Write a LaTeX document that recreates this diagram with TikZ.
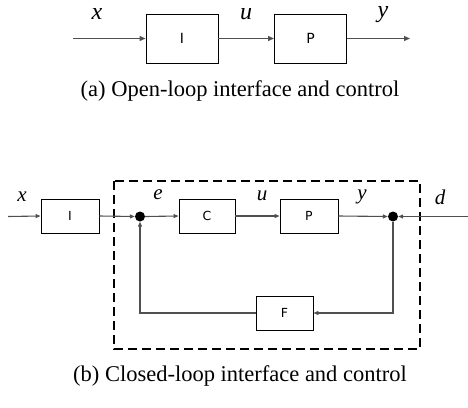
\documentclass[tikz,border=0pt]{standalone}
\usepackage{fontspec}
\setmainfont{Liberation Serif}
\newfontfamily\boxfont{DejaVu Sans}
\usetikzlibrary{arrows.meta,calc}
\definecolor{wire}{HTML}{505050}
\begin{document}
\begin{tikzpicture}[x=1pt,y=-1pt,
  blk/.style={draw=black,line width=0.9pt,fill=white,inner sep=0pt,font=\boxfont\fontsize{12.5}{14}\selectfont},
  bigblk/.style={blk,minimum width=72pt,minimum height=49pt,font=\boxfont\fontsize{14}{16}\selectfont},
  smallblk/.style={blk,minimum width=57pt,minimum height=34pt},
  wireline/.style={draw=wire,line width=1.1pt},
  arr/.style={wireline,-{Triangle[length=6pt,width=5pt]}},
  sarr/.style={wireline,-{Triangle[length=5pt,width=4pt]}},
  sig/.style={font=\fontsize{24}{26}\selectfont\itshape,inner sep=0pt},
  sigb/.style={font=\fontsize{21}{23}\selectfont\itshape,inner sep=0pt},
  dotnode/.style={circle,fill=black,minimum size=10pt,inner sep=0pt},
  capt/.style={font=\fontsize{22.5}{25}\selectfont,inner sep=0pt},
  frame/.style={draw=black,line width=1.8pt,dash pattern=on 9pt off 5pt}]
\useasboundingbox (0,0) rectangle (468,407);
% ---- (a) open loop ----
\coordinate (ain) at (73,38.5);
\coordinate (aout) at (410,38.5);
\node[bigblk] (aI) at (182,38.5) {I};
\node[bigblk] (aP) at (310.5,38.5) {P};
\draw[arr] (ain) -- (aI.west);
\draw[arr] (aI.east) -- (aP.west);
\draw[arr] (aP.east) -- (aout);
\node[sig] (ax) at (97,14) {x};
\node[sig] (au) at (246,14) {u};
\node[sig] (ay) at (383,15) {y};
\node[capt] (capa) at (240,91) {(a) Open-loop interface and control};
% ---- (b) closed loop ----
\draw[frame] (114,181) rectangle (420,349);
\coordinate (bin) at (8,216.5);
\coordinate (bd) at (468,216.5);
\node[smallblk,minimum width=58pt] (bI) at (70,216) {I};
\node[dotnode] (s1) at (140,216.5) {};
\node[smallblk,minimum width=56pt] (bC) at (207,216) {C};
\node[smallblk,minimum width=58pt] (bP) at (309,216) {P};
\node[dotnode] (s2) at (393,216.5) {};
\node[smallblk] (bF) at (284.5,313) {F};
\coordinate (c1) at (393,313);
\coordinate (c2) at (140,313);
\draw[sarr] (bin) -- (bI.west);
\draw[sarr] (bI.east) -- (s1.west);
\draw[sarr] (s1.east) -- (bC.west);
\draw[sarr] (bC.east) -- (bP.west);
\draw[sarr] (bP.east) -- (s2.west);
\draw[sarr] (bd) -- (s2.east);
\draw[sarr] (s2.south) -- (c1) -- (bF.east);
\draw[sarr] (bF.west) -- (c2) -- (s1.south);
\node[sigb] (bx) at (22,197) {x};
\node[sigb] (be) at (158,195) {e};
\node[sigb] (bu) at (262,196) {u};
\node[sigb] (by) at (362,197) {y};
\node[sigb] (bdl) at (440,197) {d};
\node[capt] (capb) at (240,376) {(b) Closed-loop interface and control};
\end{tikzpicture}
\end{document}
